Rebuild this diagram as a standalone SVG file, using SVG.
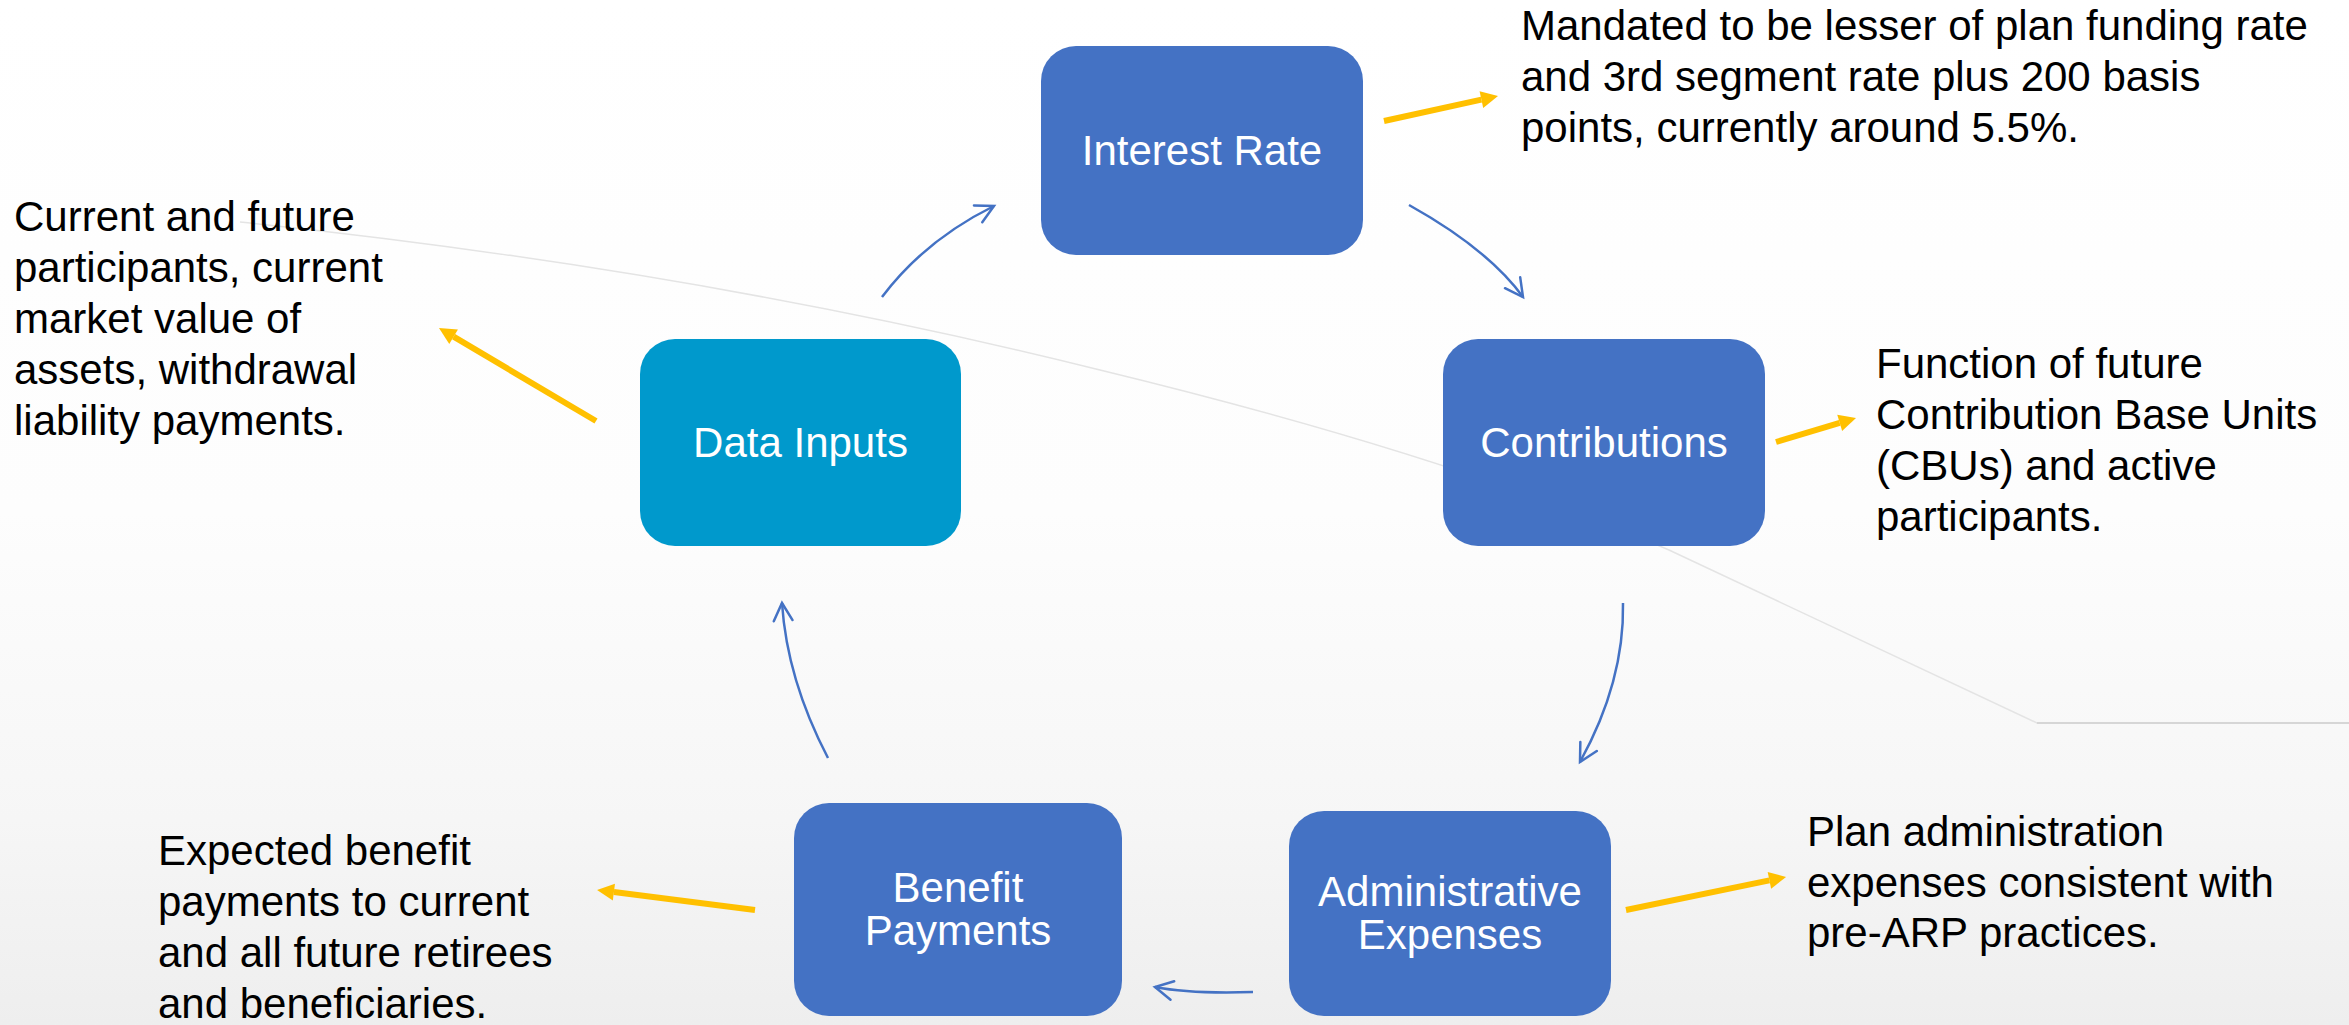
<svg xmlns="http://www.w3.org/2000/svg" width="2349" height="1025" viewBox="0 0 2349 1025">
  <defs>
    <linearGradient id="bg" x1="0" y1="0" x2="0" y2="1">
      <stop offset="0" stop-color="#ffffff"/>
      <stop offset="0.5" stop-color="#fdfdfd"/>
      <stop offset="0.8" stop-color="#f6f6f6"/>
      <stop offset="1" stop-color="#eeeeee"/>
    </linearGradient>
    <marker id="openHead" markerUnits="userSpaceOnUse" markerWidth="40" markerHeight="40" viewBox="-25 -20 30 40" refX="0" refY="0" orient="auto" overflow="visible">
      <path d="M-17.7,-9.4 L0,0 L-17.7,9.4" fill="none" stroke="#4472C4" stroke-width="2.5" stroke-linecap="round" stroke-linejoin="miter"/>
    </marker>
    <marker id="solidHead" markerUnits="userSpaceOnUse" markerWidth="40" markerHeight="40" viewBox="-5 -20 30 40" refX="0" refY="0" orient="auto" overflow="visible">
      <path d="M0,-8.5 L17,0 L0,8.5 Z" fill="#FFC000"/>
    </marker>
    <style>
      .box { fill: #4472C4; }
      .box.teal { fill: #0099CC; }
      .boxText { font-family: "Liberation Sans", Arial, sans-serif; font-size: 42px; fill: #ffffff; text-anchor: middle; }
      .note { font-family: "Liberation Sans", Arial, sans-serif; font-size: 42px; fill: #000000; }
      .flow { fill: none; stroke: #4472C4; stroke-width: 2.5; marker-end: url(#openHead); }
      .callout { fill: none; stroke: #FFC000; stroke-width: 6; marker-end: url(#solidHead); }
    </style>
  </defs>

  <!-- background -->
  <rect x="0" y="0" width="2349" height="1025" fill="url(#bg)"/>
  <path d="M240,222 Q700,270 1100,370 Q1450,455 1669,550 Q1860,640 2037,723 L2349,723" fill="none" stroke="#e4e4e4" stroke-width="1.5"/>
  <line x1="2037" y1="723" x2="2349" y2="723" stroke="#cfcfcf" stroke-width="1.5"/>

  <!-- nodes -->
  <g id="interest-rate">
    <rect class="box" x="1041" y="46" width="322" height="209" rx="35" ry="35"/>
    <text class="boxText" x="1202" y="165">Interest Rate</text>
  </g>
  <g id="contributions">
    <rect class="box" x="1443" y="339" width="322" height="207" rx="35" ry="35"/>
    <text class="boxText" x="1604" y="457">Contributions</text>
  </g>
  <g id="administrative-expenses">
    <rect class="box" x="1289" y="811" width="322" height="205" rx="35" ry="35"/>
    <text class="boxText" x="1450" y="906">Administrative</text>
    <text class="boxText" x="1450" y="949">Expenses</text>
  </g>
  <g id="benefit-payments">
    <rect class="box" x="794" y="803" width="328" height="213" rx="35" ry="35"/>
    <text class="boxText" x="958" y="902">Benefit</text>
    <text class="boxText" x="958" y="945">Payments</text>
  </g>
  <g id="data-inputs">
    <rect class="box teal" x="640" y="339" width="321" height="207" rx="35" ry="35"/>
    <text class="boxText" x="800.5" y="457">Data Inputs</text>
  </g>

  <!-- notes -->
  <g id="note-interest-rate">
    <text class="note" x="1521" y="40">Mandated to be lesser of plan funding rate</text>
    <text class="note" x="1521" y="91">and 3rd segment rate plus 200 basis</text>
    <text class="note" x="1521" y="142">points, currently around 5.5%.</text>
  </g>
  <g id="note-contributions">
    <text class="note" x="1876" y="378">Function of future</text>
    <text class="note" x="1876" y="429">Contribution Base Units</text>
    <text class="note" x="1876" y="480">(CBUs) and active</text>
    <text class="note" x="1876" y="531">participants.</text>
  </g>
  <g id="note-administrative-expenses">
    <text class="note" x="1807" y="846">Plan administration</text>
    <text class="note" x="1807" y="897">expenses consistent with</text>
    <text class="note" x="1807" y="947">pre-ARP practices.</text>
  </g>
  <g id="note-benefit-payments">
    <text class="note" x="158" y="865">Expected benefit</text>
    <text class="note" x="158" y="916">payments to current</text>
    <text class="note" x="158" y="967">and all future retirees</text>
    <text class="note" x="158" y="1018">and beneficiaries.</text>
  </g>
  <g id="note-data-inputs">
    <text class="note" x="14" y="231">Current and future</text>
    <text class="note" x="14" y="282">participants, current</text>
    <text class="note" x="14" y="333">market value of</text>
    <text class="note" x="14" y="384">assets, withdrawal</text>
    <text class="note" x="14" y="435">liability payments.</text>
  </g>

  <!-- connectors -->
  <g id="connectors">
    <path class="flow" d="M882,297 Q925,240 994,206"/>
    <path class="flow" d="M1409,205 Q1488,249 1523,297"/>
    <path class="flow" d="M1623,603 Q1624.5,681.5 1580,762"/>
    <path class="flow" d="M1253,992 Q1190,994 1155,987"/>
    <path class="flow" d="M828,758 Q787,679.5 782,603"/>

    <path class="callout" d="M1384,121 L1481.4,99.6"/>
    <path class="callout" d="M1776,442 L1839.7,422.9"/>
    <path class="callout" d="M1626,910 L1769.4,880.4"/>
    <path class="callout" d="M755,910 L613.9,892.1"/>
    <path class="callout" d="M596,421 L453.6,336.7"/>
  </g>
</svg>
